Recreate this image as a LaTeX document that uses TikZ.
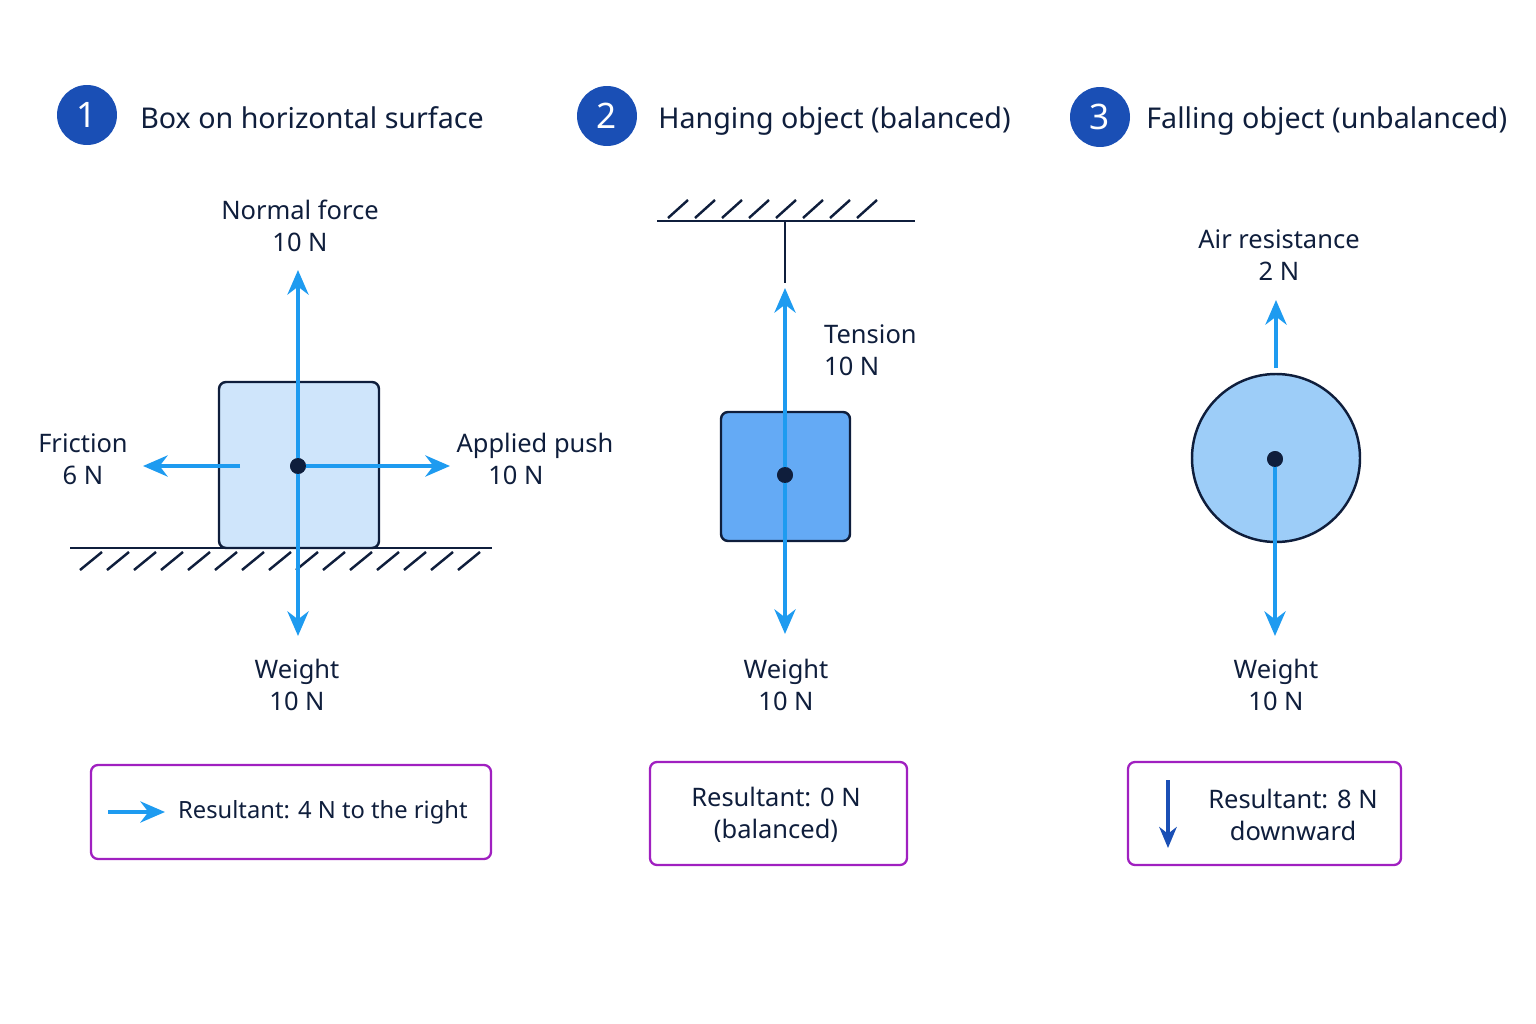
\documentclass[tikz,border=0pt]{standalone}
\usepackage{fontspec}
\setmainfont{Noto Sans}
\usetikzlibrary{arrows.meta,positioning}
\definecolor{navy}{HTML}{0F1E3C}
\definecolor{force}{HTML}{1E9BF0}
\definecolor{badge}{HTML}{1A4FB5}
\definecolor{resbox}{HTML}{A020C0}
\definecolor{boxa}{HTML}{CFE5FB}
\definecolor{boxb}{HTML}{64AAF5}
\definecolor{ball}{HTML}{9DCDF8}
\begin{document}
\begin{tikzpicture}[x=0.02cm, y=-0.02cm,
        badge/.style={circle, fill=badge, text=white, minimum size=1.2cm, inner sep=0pt, font=\fontsize{20}{24}\selectfont\bfseries},
        title/.style={anchor=base west, inner sep=0pt, font=\fontsize{16.3}{20}\selectfont, text=navy},
        label/.style={font=\fontsize{14.5}{18}\selectfont, text=navy, align=center},
        force/.style={-{Stealth[length=14pt,width=12pt]}, line width=2.3pt, draw=force},
        dot/.style={circle, fill=navy, inner sep=0pt, minimum size=9pt},
        result/.style={draw=resbox, line width=1.3pt, rounded corners=4pt},
        ground/.style={line width=1.4pt, draw=navy},
    ]
        \useasboundingbox (0,0) rectangle (1536,1024);
        % Panel 1 - box on surface
        \node[badge] (n1) at (87,115) {1};
        \node[title] (t1) at (140,129) {Box on horizontal surface};
        \draw[ground] (70,548) -- (492,548);
        \foreach \x in {80,107,...,470}
            \draw[ground] (\x+22,552) -- (\x,570);
        \draw[navy, line width=1.4pt, fill=boxa, rounded corners=4pt] (219,382) rectangle (379,548);
        \node[dot] (c1) at (298,466) {};
        \coordinate (up1) at (298,270);
        \coordinate (dn1) at (298,636);
        \coordinate (rt1) at (450,466);
        \coordinate (lf1s) at (240,466);
        \coordinate (lf1) at (143,466);
        \draw[force] (c1.center) -- (up1);
        \draw[force] (c1.center) -- (dn1);
        \draw[force] (c1.center) -- (rt1);
        \draw[force] (lf1s) -- (lf1);
        \node[dot] at (c1) {};
        \node[label] (normal) at (300,226) {Normal force\\10 N};
        \node[label] (fric) at (83,459) {Friction\\6 N};
        \node[label] (push) at (535,459) {Applied push\\\hspace*{-1.5em}10 N};
        \node[label] (w1) at (297,685) {Weight\\10 N};
        \draw[result] (91,765) rectangle (491,859);
        \coordinate (ra) at (108,812);
        \coordinate (rb) at (165,812);
        \draw[force] (ra) -- (rb);
        \node[label, anchor=west, font=\fontsize{13.5}{16}\selectfont] (r1) at (172,812) {Resultant: 4 N to the right};
        % Panel 2 - hanging object
        \node[badge] (n2) at (607,116) {2};
        \node[title] (t2) at (658,129) {Hanging object (balanced)};
        \draw[ground] (657,221) -- (915,221);
        \foreach \x in {668,695,...,880}
            \draw[ground] (\x,218) -- (\x+20,200);
        \coordinate (hook) at (785,221);
        \coordinate (knot) at (785,283);
        \draw[ground] (hook) -- (knot);
        \draw[navy, line width=1.4pt, fill=boxb, rounded corners=4pt] (721,412) rectangle (850,541);
        \node[dot] (c2) at (785,475) {};
        \coordinate (up2) at (785,288);
        \coordinate (dn2) at (785,634);
        \draw[force] (c2.center) -- (up2);
        \draw[force] (c2.center) -- (dn2);
        \node[dot] at (c2) {};
        \node[label, align=left, anchor=west] (tens) at (818,350) {Tension\\10 N};
        \node[label] (w2) at (786,685) {Weight\\10 N};
        \draw[result] (650,762) rectangle (907,865);
        \node[label] (r2) at (776,815) {Resultant: 0 N\\(balanced)};
        % Panel 3 - falling object
        \node[badge] (n3) at (1100,117) {3};
        \node[title] (t3) at (1146,129) {Falling object (unbalanced)};
        \draw[navy, line width=1.4pt, fill=ball] (1276,458) circle (84);
        \coordinate (top3) at (1276,368);
        \coordinate (up3) at (1276,300);
        \draw[force] (top3) -- (up3);
        \node[dot] (c3) at (1275,459) {};
        \coordinate (dn3) at (1275,636);
        \draw[force] (c3.center) -- (dn3);
        \node[dot] at (c3) {};
        \node[label] (air) at (1279,255) {Air resistance\\2 N};
        \node[label] (w3) at (1276,685) {Weight\\10 N};
        \draw[result] (1128,762) rectangle (1401,865);
        \coordinate (da) at (1168,780);
        \coordinate (db) at (1168,848);
        \draw[-{Stealth[length=12pt,width=10pt]}, line width=1.8pt, draw=badge] (da) -- (db);
        \node[label] (r3) at (1293,815) {Resultant: 8 N\\downward};
    \end{tikzpicture}
\end{document}
